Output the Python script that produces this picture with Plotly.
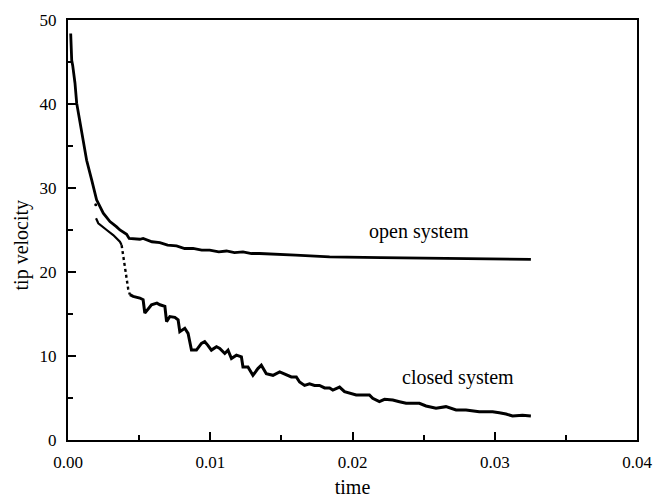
import plotly.graph_objects as go

# Tip velocity vs time for the open and closed systems
open_t = [0.00019, 0.00026, 0.00033, 0.00049, 0.00061, 0.00084, 0.00108, 0.00131,
          0.00166, 0.00201, 0.00248, 0.00295, 0.00340, 0.00365, 0.00412, 0.00430,
          0.00505, 0.00528, 0.00590, 0.00646, 0.00700, 0.00763, 0.00820, 0.00879,
          0.00940, 0.00996, 0.01060, 0.01114, 0.01170, 0.01230, 0.01290, 0.01347,
          0.01600, 0.01839, 0.02200, 0.02657, 0.03000, 0.03254]
open_v = [48.4, 45.2, 44.6, 42.5, 40.1, 37.7, 35.3, 33.3,
          31.0, 28.6, 27.0, 26.0, 25.4, 25.0, 24.5, 24.0,
          23.9, 24.0, 23.6, 23.5, 23.2, 23.1, 22.8, 22.8,
          22.6, 22.6, 22.4, 22.5, 22.3, 22.4, 22.2, 22.2,
          22.0, 21.8, 21.7, 21.6, 21.55, 21.5]

closed_t = [0.00195, 0.00197, 0.00213, 0.00272, 0.00318, 0.00365, 0.00377,
            0.00389, 0.00400, 0.00412, 0.00423, 0.00435,
            0.00458, 0.00505, 0.00528, 0.00540, 0.00587, 0.00625, 0.00646, 0.00681,
            0.00693, 0.00716, 0.00751, 0.00774, 0.00786, 0.00821, 0.00844, 0.00868,
            0.00903, 0.00938, 0.00961, 0.00982, 0.01008, 0.01044, 0.01067, 0.01102,
            0.01125, 0.01149, 0.01184, 0.01219, 0.01230, 0.01265, 0.01300, 0.01335,
            0.01359, 0.01394, 0.01441, 0.01488, 0.01535, 0.01570, 0.01605, 0.01628,
            0.01663, 0.01698, 0.01733, 0.01768, 0.01804, 0.01839, 0.01862, 0.01909,
            0.01944, 0.01991, 0.02026, 0.02072, 0.02119, 0.02142, 0.02189, 0.02225,
            0.02283, 0.02330, 0.02377, 0.02470, 0.02517, 0.02587, 0.02657, 0.02728,
            0.02798, 0.02891, 0.02985, 0.03032, 0.03079, 0.03125, 0.03195, 0.03254]
closed_v = [28.0, 26.4, 25.8, 25.0, 24.4, 23.6, 23.2,
            21.8, 20.2, 19.0, 18.0, 17.3,
            17.1, 16.9, 16.7, 15.1, 16.1, 16.3, 16.1, 15.9,
            14.1, 14.7, 14.6, 14.3, 12.9, 13.3, 12.7, 10.7,
            10.7, 11.5, 11.7, 11.3, 10.7, 11.1, 10.9, 10.3,
            10.7, 9.7, 10.1, 9.9, 8.7, 8.7, 7.7, 8.5,
            8.9, 7.9, 7.7, 8.1, 7.7, 7.5, 7.5, 6.9,
            6.5, 6.7, 6.5, 6.5, 6.2, 6.2, 5.95, 6.3,
            5.75, 5.56, 5.36, 5.36, 5.36, 4.96, 4.56, 4.84,
            4.76, 4.56, 4.37, 4.37, 4.05, 3.77, 3.97, 3.57,
            3.57, 3.37, 3.37, 3.25, 3.1, 2.86, 2.94, 2.86]

x_ticks = [0.00, 0.01, 0.02, 0.03, 0.04]
x_tick_labels = ["0.00", "0.01", "0.02", "0.03", "0.04"]
y_ticks = [0, 10, 20, 30, 40, 50]

# index ranges of the closed-system branch: upper branch, sparse drop, noisy tail
BRANCH_END = 7
DROP_END = 12

serif = "Liberation Serif"
ink = "black"

fig = go.Figure()

fig.add_trace(go.Scatter(x=open_t, y=open_v, mode="lines",
                         line=dict(color=ink, width=2.8), showlegend=False))
fig.add_trace(go.Scatter(x=closed_t[:1], y=closed_v[:1], mode="markers",
                         marker=dict(color=ink, size=3), showlegend=False))
fig.add_trace(go.Scatter(x=closed_t[1:BRANCH_END], y=closed_v[1:BRANCH_END], mode="lines",
                         line=dict(color=ink, width=2.2), showlegend=False))
fig.add_trace(go.Scatter(x=closed_t[BRANCH_END - 1:DROP_END], y=closed_v[BRANCH_END - 1:DROP_END],
                         mode="lines", line=dict(color=ink, width=2.4, dash="dot"),
                         showlegend=False))
fig.add_trace(go.Scatter(x=closed_t[DROP_END - 1:], y=closed_v[DROP_END - 1:], mode="lines",
                         line=dict(color=ink, width=3), showlegend=False))

fig.add_annotation(x=0.0247, y=24.8, text="open system", showarrow=False,
                   font=dict(family=serif, size=20, color=ink))
fig.add_annotation(x=0.0274, y=7.4, text="closed system", showarrow=False,
                   font=dict(family=serif, size=20, color=ink))

# y-axis title, set a little below the vertical middle of the axis
fig.add_annotation(xref="paper", x=-0.082, y=23.2, text="tip velocity", textangle=-90,
                   showarrow=False, xanchor="center", yanchor="middle",
                   font=dict(family=serif, size=20, color=ink))

axis_common = dict(
    showgrid=False, zeroline=False, showline=True, linecolor=ink, linewidth=2,
    mirror=True, ticks="inside", ticklen=8, tickwidth=1.5, tickcolor=ink,
    tickfont=dict(family=serif, size=17, color=ink), automargin=False,
)

fig.update_xaxes(range=[0, 0.04], tickvals=x_ticks, ticktext=x_tick_labels,
                 minor=dict(ticks="inside", ticklen=5, tickwidth=1.5, tickcolor=ink, dtick=0.005,
                            tick0=0),
                 title=dict(text="time", font=dict(family=serif, size=20, color=ink), standoff=22),
                 ticklabelstandoff=6, **axis_common)
fig.update_yaxes(range=[0, 50], tickvals=y_ticks,
                 minor=dict(ticks="inside", ticklen=5, tickwidth=1.5, tickcolor=ink, dtick=5,
                            tick0=0),
                 ticklabelstandoff=6, **axis_common)

fig.update_layout(width=665, height=498, margin=dict(l=68, r=28, t=20, b=58),
                  plot_bgcolor="white", paper_bgcolor="white")

fig.write_html("out.html")
